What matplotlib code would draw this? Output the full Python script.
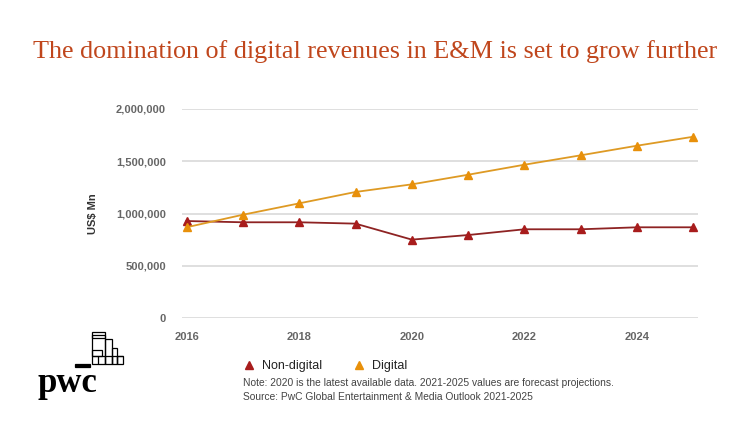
import matplotlib.pyplot as plt
from matplotlib.lines import Line2D
from matplotlib.patches import Rectangle
from matplotlib.ticker import FuncFormatter

years = [2016, 2017, 2018, 2019, 2020, 2021, 2022, 2023, 2024, 2025]
non_digital = [928000, 916000, 916000, 903000, 750000, 794000, 849000, 849000, 868000, 868000]
digital = [868000, 988000, 1097000, 1206000, 1279000, 1371000, 1467000, 1557000, 1649000, 1735000]

title = "The domination of digital revenues in E&M is set to grow further"
ylabel = "US$ Mn"
note = "Note: 2020 is the latest available data. 2021-2025 values are forecast projections."
source = "Source: PwC Global Entertainment & Media Outlook 2021-2025"

W, H = 750, 430


def px(x, y):
    # pixel position (from top-left) -> figure fraction
    return x / W, 1 - y / H


plt.rcParams['font.family'] = ['Liberation Sans', 'DejaVu Sans']

fig = plt.figure(figsize=(7.5, 4.3), dpi=100)
ax = fig.add_axes([182 / W, 1 - 318 / H, (698 - 182) / W, (318 - 109) / H])

ax.plot(years, non_digital, color="#8e2323", lw=1.3, marker="^", ms=6,
        markerfacecolor="#a81c1c", markeredgecolor="#a81c1c", zorder=3)
ax.plot(years, digital, color="#de9a24", lw=1.3, marker="^", ms=6,
        markerfacecolor="#e8900a", markeredgecolor="#e8900a", zorder=3)

ax.set_xlim(2015.92, 2025.08)
ax.set_ylim(0, 2000000)
ax.set_yticks([0, 500000, 1000000, 1500000, 2000000])
ax.set_xticks([2016, 2018, 2020, 2022, 2024])
ax.yaxis.set_major_formatter(FuncFormatter(lambda v, p: f"{int(v):,}"))
ax.grid(axis="y", color="#dcdcdc", lw=1.3)
ax.set_axisbelow(True)
for s in ax.spines.values():
    s.set_visible(False)
ax.tick_params(length=0, labelsize=8, labelcolor="#666666", pad=11.5)
ax.tick_params(axis="x", pad=10)
for lab in ax.get_xticklabels() + ax.get_yticklabels():
    lab.set_fontweight("bold")
ax.set_ylabel(ylabel, fontsize=8, fontweight="bold", color="#333333", labelpad=13)

fig.text(*px(375, 52), title, ha="center", va="center", fontsize=18.8,
         family="Liberation Serif", color="#c0461c")

handles = [Line2D([], [], ls="none", marker="^", ms=5.5, color="#a81c1c"),
           Line2D([], [], ls="none", marker="^", ms=5.5, color="#e8900a")]
fig.legend(handles, ["Non-digital", "Digital"], loc="center left",
           bbox_to_anchor=px(236, 366), ncol=2, frameon=False, fontsize=9,
           handlelength=1, handletextpad=0.6, columnspacing=2.4, borderpad=0,
           labelcolor="#222222")

fig.text(*px(243, 383), note, fontsize=7.4, color="#444444", va="center")
fig.text(*px(243, 397), source, fontsize=7.4, color="#444444", va="center")

# pwc logo
fig.text(*px(37, 392), "pwc", fontsize=25, fontweight="bold",
         family="Liberation Serif", color="black", va="baseline")


def box(x0, y0, x1, y1, fill=False):
    fig.patches.append(Rectangle(px(x0, y1), (x1 - x0) / W, (y1 - y0) / H,
                                 transform=fig.transFigure, fill=fill,
                                 facecolor="black", edgecolor="black", lw=0.9))


box(75, 364, 90, 367, fill=True)
box(92, 332, 105, 364)
box(92, 335, 105, 338)
box(105, 339, 112, 364)
box(112, 348, 117, 364)
box(117, 356, 123, 364)
box(92, 350, 102, 356)
box(92, 356, 123, 356)
for xv in (98, 105, 112, 117):
    box(xv, 356, xv, 364)

fig.savefig("out.png", dpi=100)
